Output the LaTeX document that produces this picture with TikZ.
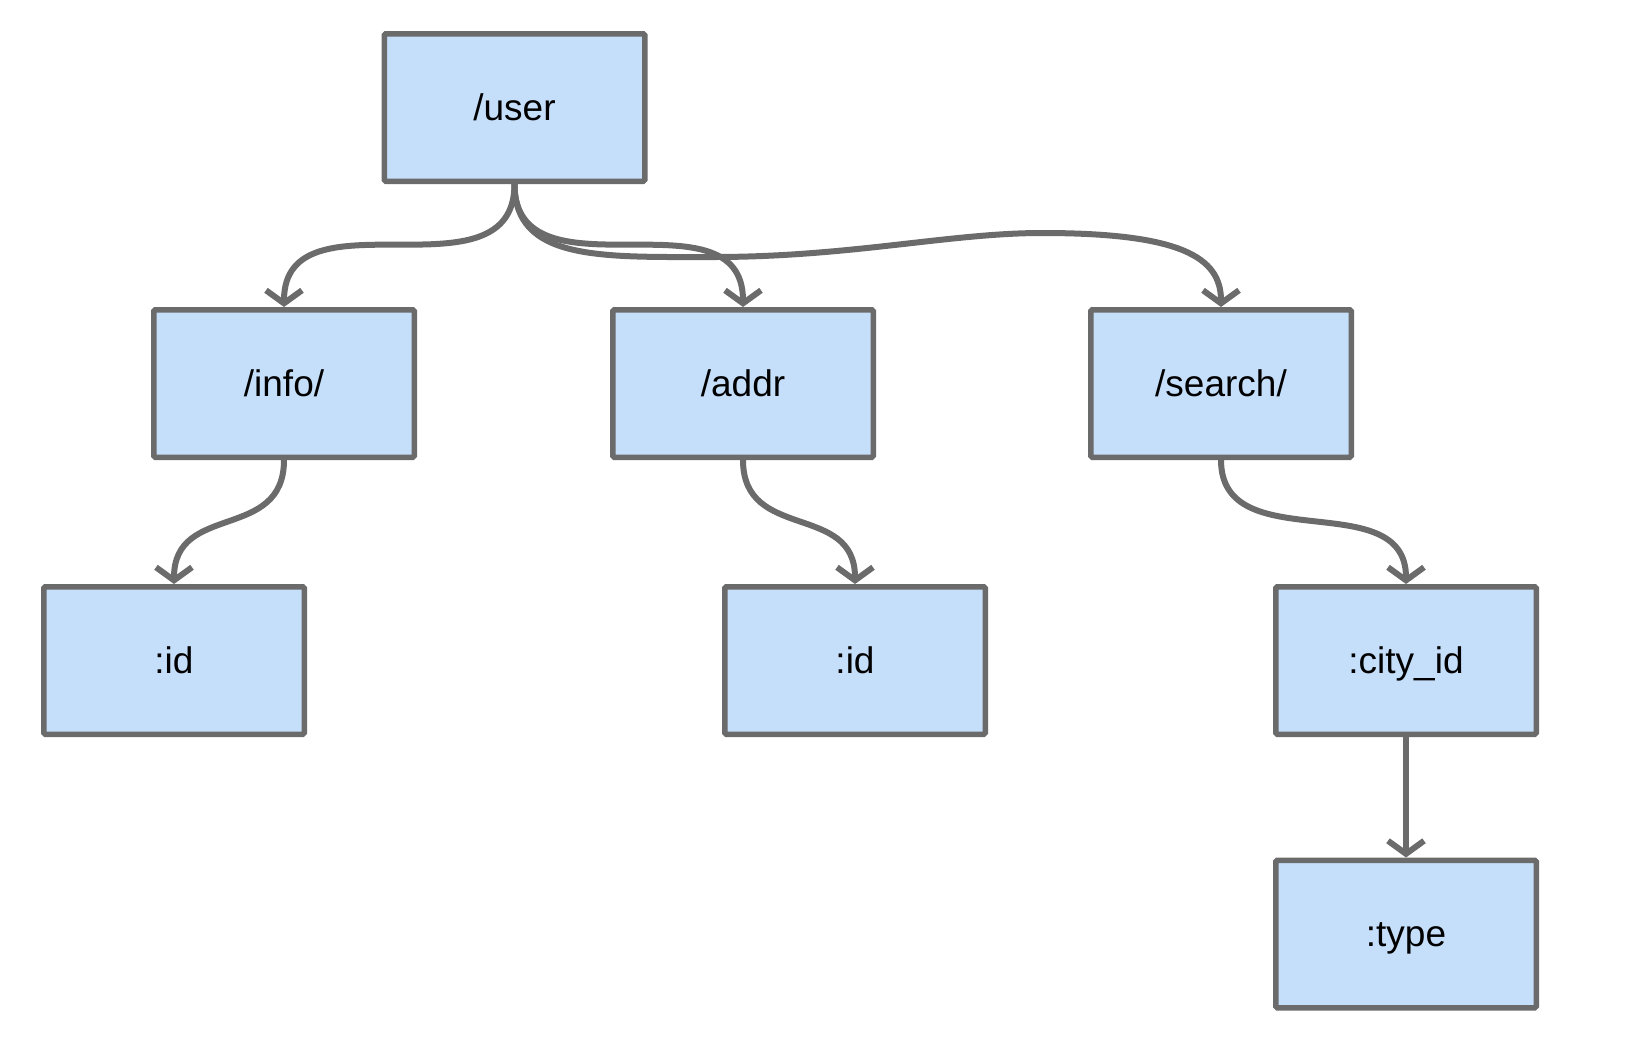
\documentclass[tikz,border=0pt]{standalone}
\usepackage{fontspec}
\setmainfont{Liberation Sans}
\usetikzlibrary{arrows.meta}
\definecolor{boxfill}{RGB}{197,222,250}
\definecolor{boxline}{RGB}{107,107,107}
\tikzset{
  routebox/.style={draw=boxline, fill=boxfill, line width=5.5pt, rounded corners=1.5pt,
    minimum width=260.5pt, minimum height=147.5pt, inner sep=0pt,
    text height=32pt, text depth=7pt,
    font=\fontsize{37}{42}\selectfont, text=black},
  link/.style={draw=boxline, line width=6pt, line cap=round,
    -{Straight Barb[length=13pt,width=36pt]}}
}
\begin{document}
\begin{tikzpicture}[x=1pt,y=-1pt]
\useasboundingbox (0,0) rectangle (1640,1036);
\node[routebox] (user)   at (514.5,107.5) {/user};
\node[routebox] (info)   at (284,383.5) {/info/};
\node[routebox] (addr)   at (743,383.5) {/addr};
\node[routebox] (search) at (1221,383.5) {/search/};
\node[routebox] (id1)    at (174,660.5) {:id};
\node[routebox] (id2)    at (855,660.5) {:id};
\node[routebox] (city)   at (1406,660.5) {:city\_id};
\node[routebox] (type)   at (1406,934) {:type};
\coordinate (s1) at (714,257);
\coordinate (s2) at (1042,233);
\draw[link] (user.south) .. controls +(0,120) and +(0,-120) .. (info.north);
\draw[link] (user.south) .. controls +(0,120) and +(0,-120) .. (addr.north);
\draw[link] (user.south) .. controls +(0,77) and +(-114,0) .. (s1)
  .. controls +(136,0) and +(-92,0) .. (s2)
  .. controls +(138,0) and +(0,-50) .. (search.north);
\draw[link] (info.south) .. controls +(0,82) and +(0,-82) .. (id1.north);
\draw[link] (addr.south) .. controls +(0,82) and +(0,-82) .. (id2.north);
\draw[link] (search.south) .. controls +(0,100) and +(0,-100) .. (city.north);
\draw[link] (city.south) -- (type.north);
\end{tikzpicture}
\end{document}
